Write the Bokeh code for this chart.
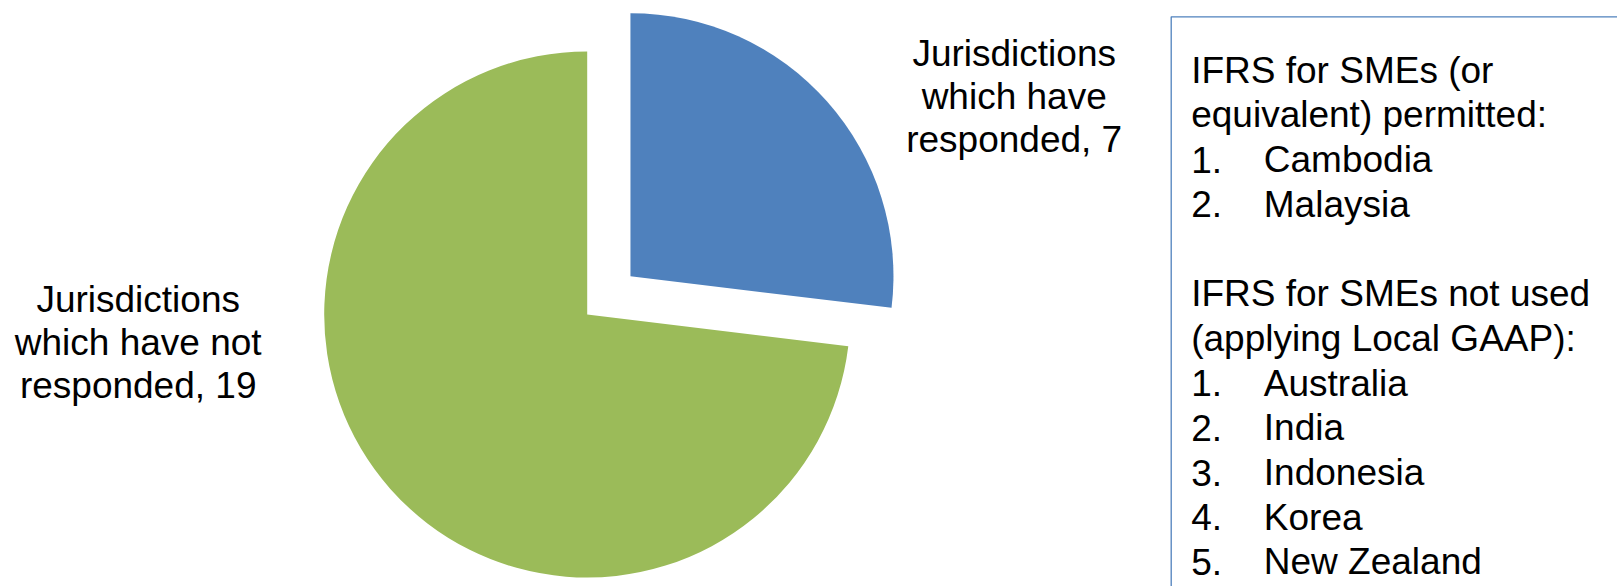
import math
from bokeh.plotting import figure
from bokeh.models import Range1d
from bokeh.core.properties import value
from bokeh.embed import file_html
from bokeh.resources import INLINE

# ---- data ----
categories = ["Jurisdictions which have responded", "Jurisdictions which have not responded"]
counts = [7, 19]
colors = ["#4F81BD", "#9BBB59"]

permitted_title = ["IFRS for SMEs (or", "equivalent) permitted:"]
permitted = ["Cambodia", "Malaysia"]
not_used_title = ["IFRS for SMEs not used", "(applying Local GAAP):"]
not_used = ["Australia", "India", "Indonesia", "Korea", "New Zealand"]

# ---- layout ----
W, H = 1617, 586
FONT = value("Liberation Sans")
FS = "37px"
TEXT_SHIFT = 12  # renderer places alphabetic baseline lower; compensate

p = figure(width=W, height=H, x_range=Range1d(0, W), y_range=Range1d(0, H),
           output_backend="svg", toolbar_location=None,
           x_axis_type=None, y_axis_type=None, min_border=0,
           outline_line_color=None, background_fill_color="white",
           border_fill_color="white")
p.grid.visible = False

def Y(y_screen):
    return H - y_screen

cx, cy = 586.7, Y(314)
R = 263
explode = 57.8

total = sum(counts)
start = math.pi / 2
for i, (c, col) in enumerate(zip(counts, colors)):
    sweep = 2 * math.pi * c / total
    a_end = start
    a_start = start - sweep
    mid = (a_start + a_end) / 2
    off = explode if i == 0 else 0
    x0 = cx + off * math.cos(mid)
    y0 = cy + off * math.sin(mid)
    p.wedge(x=[x0], y=[y0], radius=R, start_angle=a_start, end_angle=a_end,
            direction="anticlock", fill_color=col, line_color=None)
    start = a_start

def txt(x, y, t, align):
    p.text(x=[x], y=[Y(y - TEXT_SHIFT)], text=[t], text_font=FONT, text_font_size=FS,
           text_align=align, text_baseline="alphabetic", text_line_height=1.0,
           text_color="black")

def label(lines, xc, y_first, step=43):
    for k, t in enumerate(lines):
        txt(xc, y_first + k * step, t, "center")

label(["Jurisdictions", "which have", f"responded, {counts[0]}"], 1013.7, 65)
label(["Jurisdictions", "which have not", f"responded, {counts[1]}"], 137.7, 311)

# text box
bx, by = 1170.7, 16.3
p.quad(left=[bx], right=[W + 20], top=[Y(by)], bottom=[Y(H + 20)],
       fill_color="white", line_color="#4F81BD", line_width=1.3)

lines = []
lines += [(t, None) for t in permitted_title]
lines += [(t, f"{i+1}.") for i, t in enumerate(permitted)]
lines += [("", None)]
lines += [(t, None) for t in not_used_title]
lines += [(t, f"{i+1}.") for i, t in enumerate(not_used)]

tx, ix = 1190.7, 1263.3
y0 = 81.7
step = 44.7
for k, (t, num) in enumerate(lines):
    yy = y0 + k * step
    if num is None:
        if t:
            txt(tx, yy, t, "left")
    else:
        txt(tx, yy, num, "left")
        txt(ix, yy, t, "left")

open("out.html", "w").write(file_html(p, INLINE))
